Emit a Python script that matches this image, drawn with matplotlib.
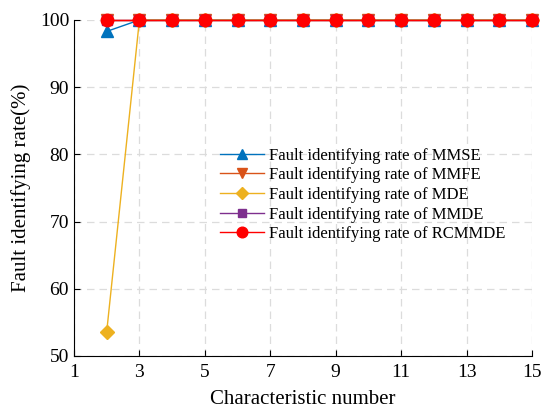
import matplotlib.pyplot as plt
import numpy as np

plt.rcParams['font.family'] = ['Liberation Serif', 'DejaVu Serif']

# characteristic number vs fault identifying rate (%)
x = [2, 3, 4, 5, 6, 7, 8, 9, 10, 11, 12, 13, 14, 15]
mmse = [98.3, 100, 100, 100, 100, 100, 100, 100, 100, 100, 100, 100, 100, 100]
mmfe = [100, 100, 100, 100, 100, 100, 100, 100, 100, 100, 100, 100, 100, 100]
mde = [53.6, 100, 100, 100, 100, 100, 100, 100, 100, 100, 100, 100, 100, 100]
mmde = [100, 100, 100, 100, 100, 100, 100, 100, 100, 100, 100, 100, 100, 100]
rcmmde = [100, 100, 100, 100, 100, 100, 100, 100, 100, 100, 100, 100, 100, 100]

fig = plt.figure(figsize=(5.42, 4.08), dpi=100)
ax = fig.add_axes([0.1365, 0.1275, 0.845, 0.8235])

ax.plot(x, mmse, '-^', color='#0072BD', lw=1, ms=9, label='Fault identifying rate of MMSE', clip_on=False)
ax.plot(x, mmfe, '-v', color='#D95319', lw=1, ms=9, label='Fault identifying rate of MMFE', clip_on=False)
ax.plot(x, mde, '-D', color='#EDB120', lw=1, ms=7, label='Fault identifying rate of MDE', clip_on=False)
ax.plot(x, mmde, '-s', color='#7E2F8E', lw=1, ms=7, label='Fault identifying rate of MMDE', clip_on=False)
ax.plot(x, rcmmde, '-o', color='#FF0000', lw=1, ms=9, label='Fault identifying rate of RCMMDE', clip_on=False)

ax.set_xlim(1, 15)
ax.set_ylim(50, 100)
ax.set_xticks([1, 3, 5, 7, 9, 11, 13, 15])
ax.set_yticks([50, 60, 70, 80, 90, 100])
ax.grid(True, ls=(0, (6, 4)), color='#dcdcdc', lw=0.9)
ax.set_axisbelow(True)
for s in ['top', 'right']:
    ax.spines[s].set_visible(False)
ax.tick_params(direction='in', length=4, labelsize=14)
ax.tick_params(axis='x', pad=6)
ax.set_xlabel('Characteristic number', fontsize=15, labelpad=6)
ax.set_ylabel('Fault identifying rate(%)', fontsize=15, labelpad=6)

ax.legend(loc='upper left', bbox_to_anchor=(0.305, 0.64), frameon=False, fontsize=12,
          handlelength=2.6, labelspacing=0.22, handletextpad=0.3, borderaxespad=0,
          markerscale=0.85)

fig.savefig('out.png')
